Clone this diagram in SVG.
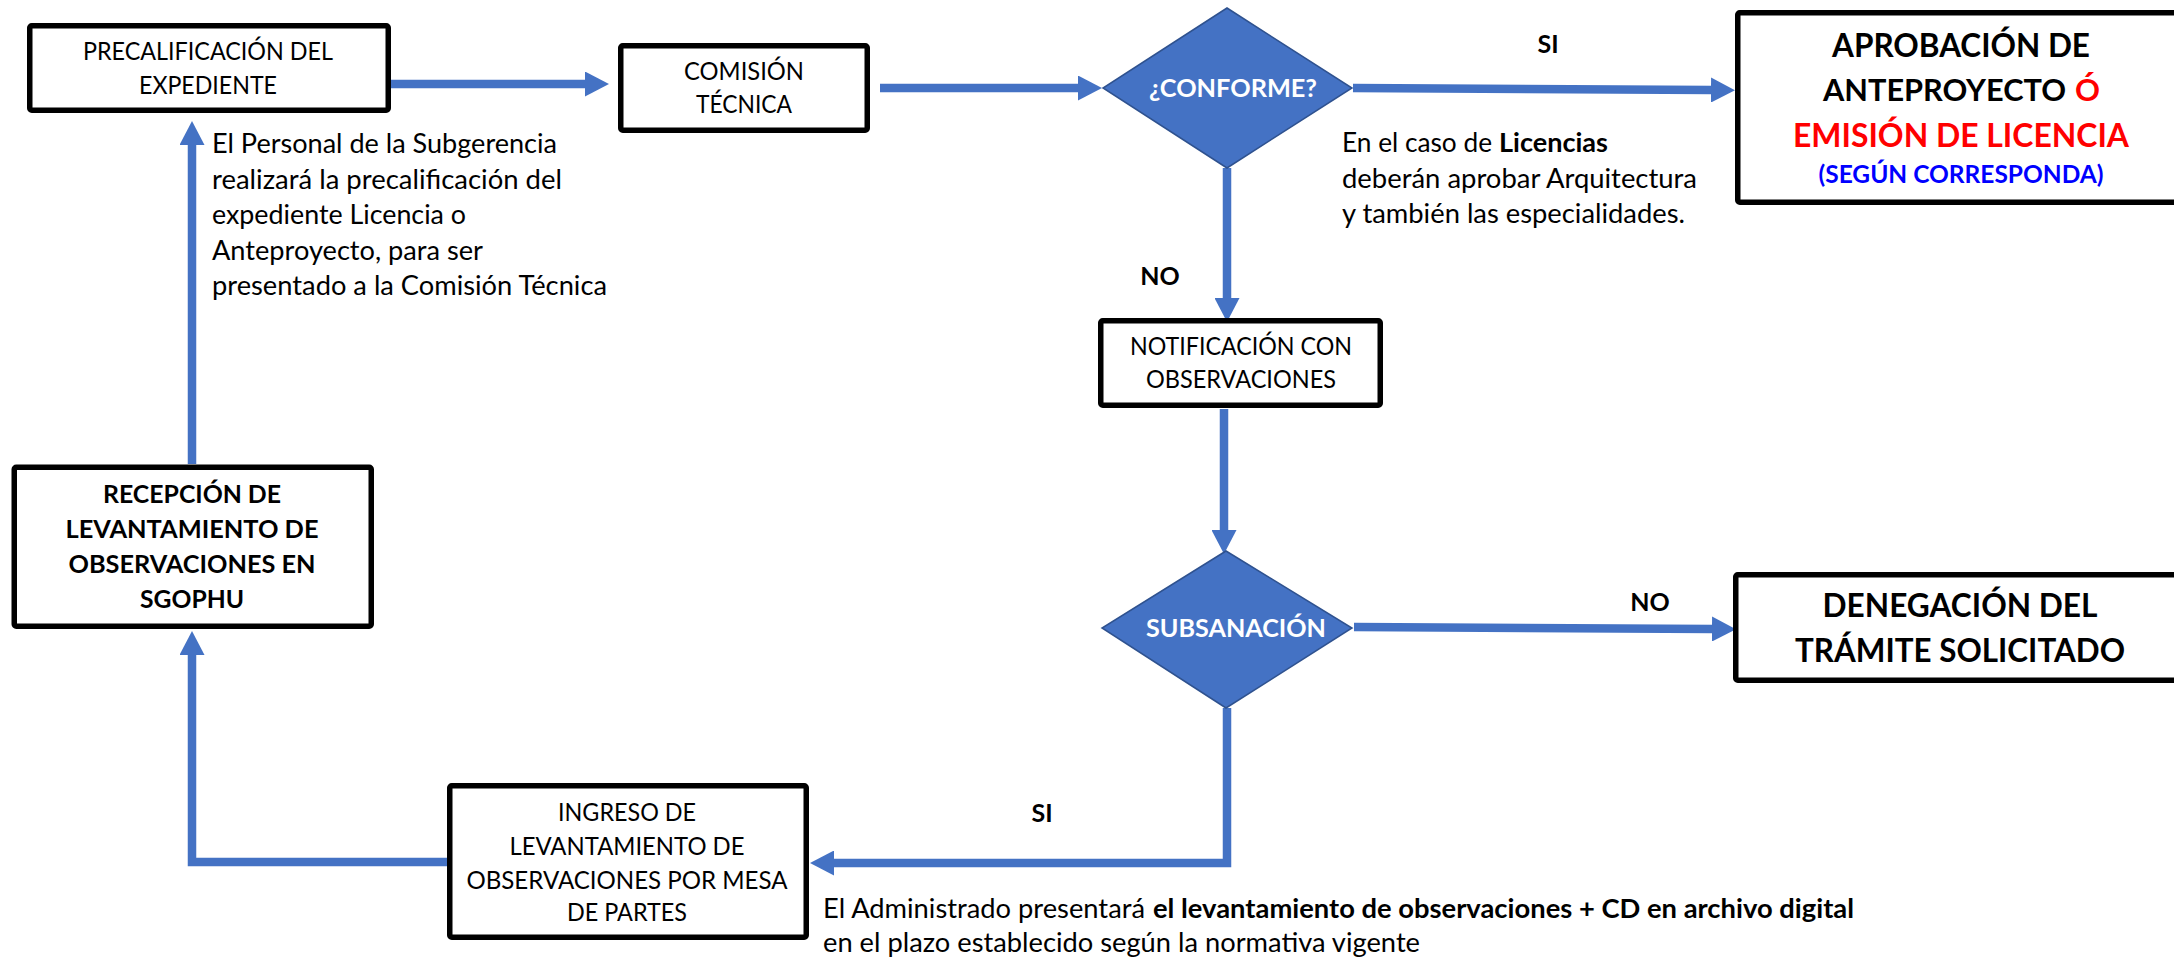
<svg xmlns="http://www.w3.org/2000/svg" width="2174" height="957" viewBox="0 0 2174 957">
<style>
.box{fill:#fff;stroke:#000;stroke-width:5.5;stroke-linejoin:round}
.dia{fill:#4472C4;stroke:#2F528F;stroke-width:1.5}
.conn{fill:none;stroke:#4472C4;stroke-width:8.5;stroke-linejoin:miter}
.t{font-family:Lato,"Liberation Sans",sans-serif;fill:#000}
.bt{font-size:24.8px;text-anchor:middle}
.bb{font-size:24.8px;font-weight:bold;text-anchor:middle}
.body{font-size:26.8px}
.lbl{font-size:25px;font-weight:bold;text-anchor:middle}
.wt{font-size:25px;font-weight:bold;fill:#fff;text-anchor:middle}
.hd{font-size:32.5px;font-weight:bold;text-anchor:middle}
.hl{font-size:31px;font-weight:bold}
.red{fill:#FF0000}
.blue{fill:#0000FF}
</style>
<defs>
<marker id="ah" viewBox="0 0 24 25" markerWidth="24" markerHeight="25" markerUnits="userSpaceOnUse" refX="1" refY="12.5" orient="auto">
<path d="M0,0 L24,12.5 L0,25 Z" fill="#4472C4"/>
</marker>
</defs>

<g id="connectors">
<path class="conn" d="M391,84 H586" marker-end="url(#ah)"/>
<path class="conn" d="M880,88 H1079" marker-end="url(#ah)"/>
<path class="conn" d="M1353,88 L1712,90" marker-end="url(#ah)"/>
<path class="conn" d="M1227,168 V299" marker-end="url(#ah)"/>
<path class="conn" d="M1224,409 V531" marker-end="url(#ah)"/>
<path class="conn" d="M1354,627 L1713,629" marker-end="url(#ah)"/>
<path class="conn" d="M1227,708 V863 H833" marker-end="url(#ah)"/>
<path class="conn" d="M447,862 H192 V654" marker-end="url(#ah)"/>
<path class="conn" d="M192,464 V144" marker-end="url(#ah)"/>
</g>

<g id="precalificacion">
<rect class="box" x="29.75" y="25.75" width="358.5" height="84.5" rx="2"/>
<text class="t bt" x="208" y="60" textLength="250" lengthAdjust="spacingAndGlyphs">PRECALIFICACIÓN DEL</text>
<text class="t bt" x="208" y="94" textLength="138" lengthAdjust="spacingAndGlyphs">EXPEDIENTE</text>
</g>

<g id="comision">
<rect class="box" x="620.75" y="45.75" width="246.5" height="84.5" rx="2"/>
<text class="t bt" x="744" y="80" textLength="120" lengthAdjust="spacingAndGlyphs">COMISIÓN</text>
<text class="t bt" x="744" y="113" textLength="96" lengthAdjust="spacingAndGlyphs">TÉCNICA</text>
</g>

<g id="conforme">
<polygon class="dia" points="1227,8 1352,88 1227,168 1103,88"/>
<text class="t wt" x="1233" y="97" textLength="168" lengthAdjust="spacingAndGlyphs">¿CONFORME?</text>
</g>

<g id="aprobacion">
<rect class="box" x="1737.75" y="12.75" width="460" height="189.5" rx="2"/>
<text class="t hd" x="1961" y="57" textLength="258" lengthAdjust="spacingAndGlyphs">APROBACIÓN DE</text>
<text class="t hl" x="1823" y="101" textLength="243" lengthAdjust="spacingAndGlyphs">ANTEPROYECTO</text>
<text class="t hl red" x="2075" y="101" textLength="25" lengthAdjust="spacingAndGlyphs">Ó</text>
<text class="t hd red" x="1961" y="147" textLength="336" lengthAdjust="spacingAndGlyphs">EMISIÓN DE LICENCIA</text>
<text class="t blue" x="1961" y="183" font-size="24px" font-weight="bold" text-anchor="middle" textLength="285" lengthAdjust="spacingAndGlyphs">(SEGÚN CORRESPONDA)</text>
</g>

<g id="notificacion">
<rect class="box" x="1100.75" y="320.75" width="279.5" height="84.5" rx="2"/>
<text class="t bt" x="1241" y="355" textLength="222" lengthAdjust="spacingAndGlyphs">NOTIFICACIÓN CON</text>
<text class="t bt" x="1241" y="388" textLength="190" lengthAdjust="spacingAndGlyphs">OBSERVACIONES</text>
</g>

<g id="subsanacion">
<polygon class="dia" points="1226,551 1352,628 1226,708 1102,628"/>
<text class="t wt" x="1236" y="637" textLength="180" lengthAdjust="spacingAndGlyphs">SUBSANACIÓN</text>
</g>

<g id="denegacion">
<rect class="box" x="1735.75" y="574.75" width="460" height="105.5" rx="2"/>
<text class="t hd" x="1960" y="617" textLength="275" lengthAdjust="spacingAndGlyphs">DENEGACIÓN DEL</text>
<text class="t hd" x="1960" y="662" textLength="330" lengthAdjust="spacingAndGlyphs">TRÁMITE SOLICITADO</text>
</g>

<g id="recepcion">
<rect class="box" x="14.25" y="467.25" width="357" height="159" rx="2"/>
<text class="t bb" x="192" y="503" textLength="178" lengthAdjust="spacingAndGlyphs">RECEPCIÓN DE</text>
<text class="t bb" x="192" y="538" textLength="253" lengthAdjust="spacingAndGlyphs">LEVANTAMIENTO DE</text>
<text class="t bb" x="192" y="573" textLength="247" lengthAdjust="spacingAndGlyphs">OBSERVACIONES EN</text>
<text class="t bb" x="192" y="608" textLength="104" lengthAdjust="spacingAndGlyphs">SGOPHU</text>
</g>

<g id="ingreso">
<rect class="box" x="449.75" y="785.75" width="356.5" height="151.5" rx="2"/>
<text class="t bt" x="627" y="821" textLength="138" lengthAdjust="spacingAndGlyphs">INGRESO DE</text>
<text class="t bt" x="627" y="855" textLength="235" lengthAdjust="spacingAndGlyphs">LEVANTAMIENTO DE</text>
<text class="t bt" x="627" y="888.5" textLength="321" lengthAdjust="spacingAndGlyphs">OBSERVACIONES POR MESA</text>
<text class="t bt" x="627" y="921" textLength="120" lengthAdjust="spacingAndGlyphs">DE PARTES</text>
</g>

<g id="labels">
<text class="t lbl" x="1548" y="53">SI</text>
<text class="t lbl" x="1160" y="285">NO</text>
<text class="t lbl" x="1650" y="611">NO</text>
<text class="t lbl" x="1042" y="822">SI</text>
</g>

<g id="note-personal">
<text class="t body" x="212" y="153" textLength="345" lengthAdjust="spacingAndGlyphs">El Personal de la Subgerencia</text>
<text class="t body" x="212" y="188.5" textLength="350" lengthAdjust="spacingAndGlyphs">realizará la precalificación del</text>
<text class="t body" x="212" y="224" textLength="254" lengthAdjust="spacingAndGlyphs">expediente Licencia o</text>
<text class="t body" x="212" y="259.5" textLength="271" lengthAdjust="spacingAndGlyphs">Anteproyecto, para ser</text>
<text class="t body" x="212" y="295" textLength="395" lengthAdjust="spacingAndGlyphs">presentado a la Comisión Técnica</text>
</g>

<g id="note-licencias">
<text class="t body" x="1342" y="152" textLength="150" lengthAdjust="spacingAndGlyphs">En el caso de</text>
<text class="t body" x="1499" y="152" font-weight="bold" textLength="109" lengthAdjust="spacingAndGlyphs">Licencias</text>
<text class="t body" x="1342" y="188" textLength="355" lengthAdjust="spacingAndGlyphs">deberán aprobar Arquitectura</text>
<text class="t body" x="1342" y="223" textLength="343" lengthAdjust="spacingAndGlyphs">y también las especialidades.</text>
</g>

<g id="note-administrado">
<text class="t body" x="823" y="918" textLength="322" lengthAdjust="spacingAndGlyphs">El Administrado presentará</text>
<text class="t body" x="1153" y="918" font-weight="bold" textLength="701" lengthAdjust="spacingAndGlyphs">el levantamiento de observaciones + CD en archivo digital</text>
<text class="t body" x="823" y="952" textLength="597" lengthAdjust="spacingAndGlyphs">en el plazo establecido según la normativa vigente</text>
</g>
</svg>
